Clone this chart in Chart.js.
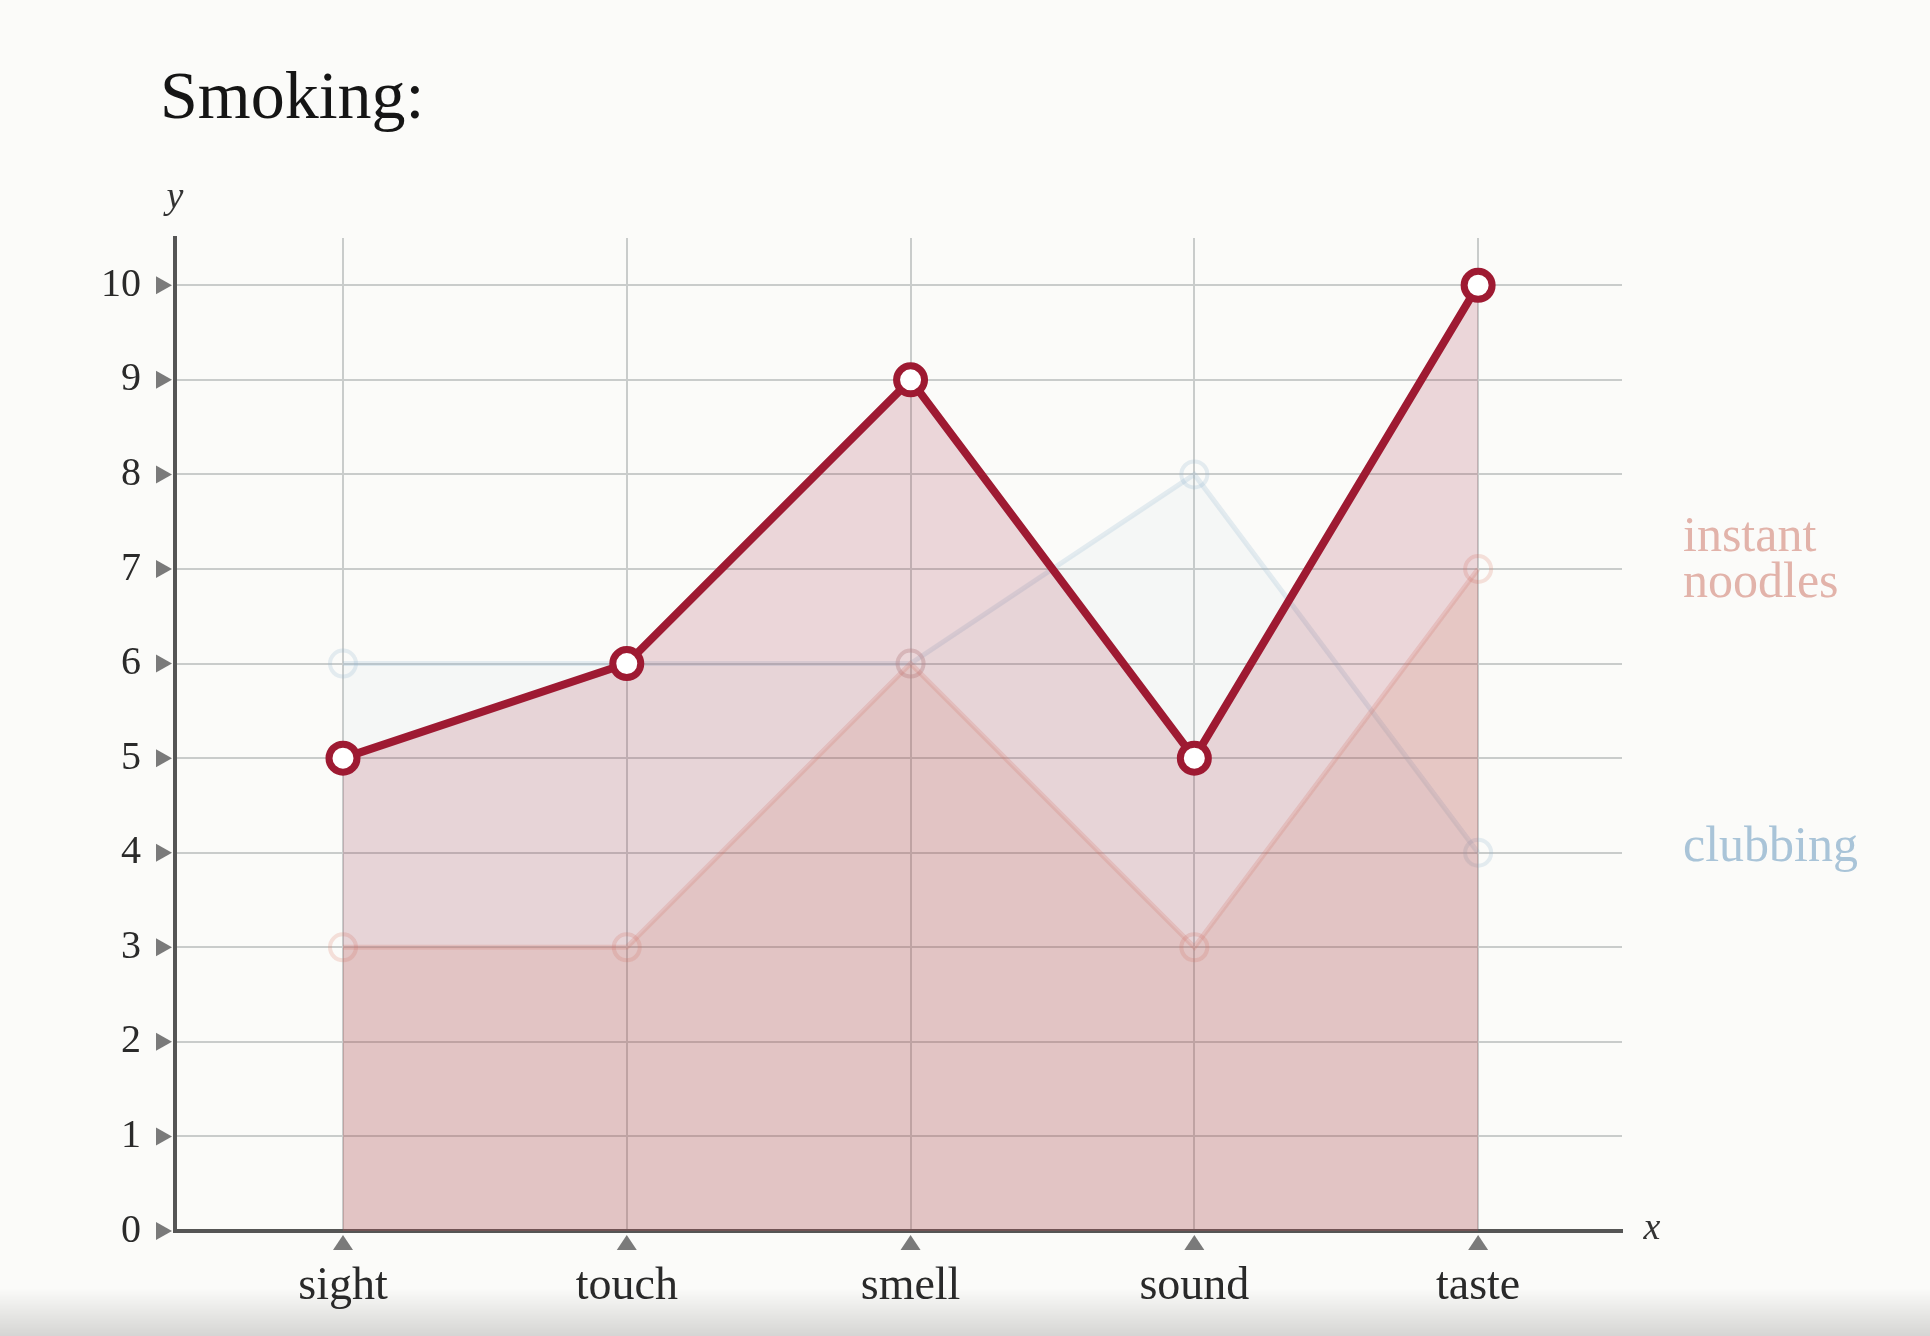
<!DOCTYPE html>
<html>
<head>
<meta charset="utf-8">
<script src="https://cdn.jsdelivr.net/npm/chart.js@4"></script>
<style>
    html, body { margin: 0; padding: 0; }
    body { width: 1930px; height: 1336px; background: #fbfbf9; position: relative; overflow: hidden; }
    #title { position: absolute; left: 160px; top: 61px; font: 68px/68px 'Liberation Serif', serif; color: #151515; }
    #wrap { position: absolute; left: 0; top: 0; width: 1930px; height: 1336px; }
    #shade { position: absolute; left: 0; bottom: 0; width: 100%; height: 48px; background: linear-gradient(to bottom, rgba(0,0,0,0), rgba(0,0,0,0.15)); pointer-events: none; }
</style>
</head>
<body>
<div id="title">Smoking:</div>
<div id="wrap"><canvas id="myChart"></canvas></div>
<div id="shade"></div>
<script>
const categories = ['sight', 'touch', 'smell', 'sound', 'taste'];
const smoking = [5, 6, 9, 5, 10];
const clubbing = [6, 6, 6, 8, 4];
const instantNoodles = [3, 3, 6, 3, 7];
const yTicks = [0, 1, 2, 3, 4, 5, 6, 7, 8, 9, 10];

const serif = "'Liberation Serif', serif";

function points(values) {
    return values.map((v, i) => ({ x: i, y: v }));
}

// little triangles, axis letters and the side labels
const extras = {
    id: 'extras',
    afterDraw(chart) {
        const ctx = chart.ctx;
        const xs = chart.scales.x;
        const ys = chart.scales.y;
        const area = chart.chartArea;
        ctx.save();
        ctx.fillStyle = '#7a7a7a';
        yTicks.forEach(v => {
            const y = ys.getPixelForValue(v);
            ctx.beginPath();
            ctx.moveTo(area.left - 19, y - 9);
            ctx.lineTo(area.left - 19, y + 9);
            ctx.lineTo(area.left - 3, y);
            ctx.closePath();
            ctx.fill();
        });
        categories.forEach((c, i) => {
            const x = xs.getPixelForValue(i);
            ctx.beginPath();
            ctx.moveTo(x - 10, area.bottom + 19);
            ctx.lineTo(x + 10, area.bottom + 19);
            ctx.lineTo(x, area.bottom + 4);
            ctx.closePath();
            ctx.fill();
        });

        ctx.fillStyle = '#333';
        ctx.font = 'italic 38px ' + serif;
        ctx.textAlign = 'center';
        ctx.textBaseline = 'middle';
        ctx.fillText('y', area.left, area.top - 40);
        ctx.fillText('x', area.right + 30, area.bottom - 2);

        ctx.font = '50px ' + serif;
        ctx.textAlign = 'left';
        const lx = area.right + 61;
        ctx.fillStyle = '#e2b3aa';
        const yn = ys.getPixelForValue(instantNoodles[instantNoodles.length - 1]);
        ctx.fillText('instant', lx, yn - 31);
        ctx.fillText('noodles', lx, yn + 15);
        ctx.fillStyle = '#a9c4d8';
        const yc = ys.getPixelForValue(clubbing[clubbing.length - 1]);
        ctx.fillText('clubbing', lx, yc - 5);
        ctx.restore();
    }
};

document.addEventListener('DOMContentLoaded', function() {
    const ctx = document.getElementById('myChart').getContext('2d');

    new Chart(ctx, {
        type: 'line',
        data: {
            datasets: [
                {
                    label: 'Smoking',
                    data: points(smoking),
                    borderColor: '#9e1a32',
                    borderWidth: 8,
                    backgroundColor: 'rgba(158, 26, 50, 0.16)',
                    fill: 'origin',
                    pointRadius: 14,
                    pointBorderWidth: 7,
                    pointBackgroundColor: '#ffffff',
                    pointBorderColor: '#9e1a32',
                    tension: 0,
                    order: 0
                },
                {
                    label: 'instant noodles',
                    data: points(instantNoodles),
                    borderColor: 'rgba(225, 140, 125, 0.25)',
                    borderWidth: 5,
                    backgroundColor: 'rgba(200, 120, 90, 0.15)',
                    fill: 'origin',
                    pointRadius: 13,
                    pointBorderWidth: 4,
                    pointBackgroundColor: 'rgba(255, 255, 255, 0)',
                    pointBorderColor: 'rgba(225, 140, 125, 0.25)',
                    tension: 0,
                    order: 1
                },
                {
                    label: 'clubbing',
                    data: points(clubbing),
                    borderColor: 'rgba(150, 185, 210, 0.24)',
                    borderWidth: 5,
                    backgroundColor: 'rgba(160, 190, 200, 0.06)',
                    fill: 'origin',
                    pointRadius: 13,
                    pointBorderWidth: 4,
                    pointBackgroundColor: 'rgba(255, 255, 255, 0)',
                    pointBorderColor: 'rgba(150, 185, 210, 0.24)',
                    tension: 0,
                    order: 2
                }
            ]
        },
        options: {
            responsive: true,
            maintainAspectRatio: false,
            animation: false,
            layout: {
                padding: { left: 0, right: 308, top: 238, bottom: 0 }
            },
            plugins: {
                legend: { display: false },
                tooltip: { enabled: false },
                title: { display: false }
            },
            scales: {
                x: {
                    type: 'linear',
                    min: -0.592,
                    max: 4.507,
                    afterBuildTicks: s => { s.ticks = categories.map((c, i) => ({ value: i })); },
                    afterFit: s => { s.height = 105; },
                    ticks: {
                        callback: v => categories[v],
                        font: { family: serif, size: 46 },
                        color: '#2a2a2a',
                        padding: 28,
                        maxRotation: 0,
                        autoSkip: false
                    },
                    grid: { color: '#c9cccb', lineWidth: 2, drawTicks: false },
                    border: { color: '#555', width: 4 }
                },
                y: {
                    min: 0,
                    max: 10.5,
                    afterBuildTicks: s => { s.ticks = yTicks.map(v => ({ value: v })); },
                    afterFit: s => { s.width = 175; },
                    ticks: {
                        font: { family: serif, size: 40 },
                        color: '#2a2a2a',
                        padding: 34
                    },
                    grid: { color: '#c9cccb', lineWidth: 2, drawTicks: false },
                    border: { color: '#555', width: 4 }
                }
            }
        },
        plugins: [extras]
    });
});
</script>
</body>
</html>
